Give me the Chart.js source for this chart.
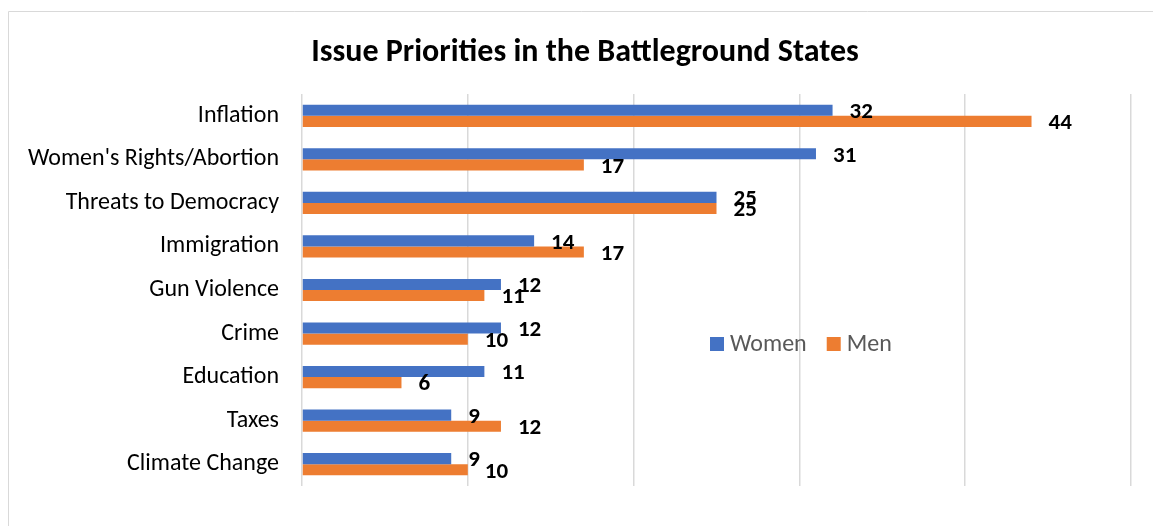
<!DOCTYPE html>
<html>
<head>
<meta charset="utf-8">
<script src="https://cdn.jsdelivr.net/npm/chart.js@4/dist/chart.umd.min.js"></script>
<style>
  html, body { margin: 0; padding: 0; background: #fff; }
  #wrap { width: 1153px; height: 526px; position: relative; }
</style>
</head>
<body>
<div id="wrap"><canvas id="issues"></canvas></div>
<script>
var categories = ["Inflation", "Women's Rights/Abortion", "Threats to Democracy", "Immigration",
                  "Gun Violence", "Crime", "Education", "Taxes", "Climate Change"];
var women = [32, 31, 25, 14, 12, 12, 11, 9, 9];
var men = [44, 17, 25, 17, 11, 10, 6, 12, 10];
var seriesNames = ["Women", "Men"];
var title = "Issue Priorities in the Battleground States";

var FONT = "Carlito, Lato, sans-serif";

// bold value labels next to each bar end
var barLabels = {
  id: 'barLabels',
  afterDatasetsDraw: function(chart) {
    var ctx = chart.ctx;
    ctx.save();
    ctx.font = "bold 23px " + FONT;
    ctx.fillStyle = "#000";
    ctx.textAlign = "left";
    ctx.textBaseline = "middle";
    chart.data.datasets.forEach(function(ds, i) {
      chart.getDatasetMeta(i).data.forEach(function(bar, j) {
        ctx.fillText(ds.data[j], bar.x + 17, bar.y + 2);
      });
    });
    ctx.restore();
  }
};

// title, frame and the legend sitting inside the plot
var decor = {
  id: 'decor',
  beforeDraw: function(chart) {
    var ctx = chart.ctx;
    ctx.save();
    ctx.strokeStyle = "#d9d9d9";
    ctx.lineWidth = 1;
    ctx.beginPath();
    ctx.moveTo(8.5, 530);
    ctx.lineTo(8.5, 11.5);
    ctx.lineTo(1160, 11.5);
    ctx.stroke();
    ctx.restore();
  },
  afterDraw: function(chart) {
    var ctx = chart.ctx;
    ctx.save();
    ctx.font = "bold 32px " + FONT;
    ctx.fillStyle = "#000";
    ctx.textAlign = "center";
    ctx.textBaseline = "middle";
    ctx.fillText(title, 585, 53);

    ctx.font = "24px " + FONT;
    ctx.textAlign = "left";
    var x = 710;
    chart.data.datasets.forEach(function(ds, i) {
      ctx.fillStyle = ds.backgroundColor;
      ctx.fillRect(x, 337, 14, 14);
      ctx.fillStyle = "#595959";
      ctx.fillText(seriesNames[i], x + 20, 345);
      x += 20 + ctx.measureText(seriesNames[i]).width + 20;
    });
    ctx.restore();
  }
};

new Chart(document.getElementById("issues"), {
  type: 'bar',
  data: {
    labels: categories,
    datasets: [
      { label: seriesNames[0], data: women, backgroundColor: "#4472C4",
        barPercentage: 1.0, categoryPercentage: 0.51 },
      { label: seriesNames[1], data: men, backgroundColor: "#ED7D31",
        barPercentage: 1.0, categoryPercentage: 0.51 }
    ]
  },
  options: {
    indexAxis: 'y',
    responsive: true,
    maintainAspectRatio: false,
    animation: false,
    layout: { padding: { left: 0, right: 22, top: 94, bottom: 40 } },
    plugins: {
      legend: { display: false },
      tooltip: { enabled: false }
    },
    scales: {
      x: {
        min: 0, max: 50,
        ticks: { display: false, stepSize: 10 },
        grid: { color: "#d9d9d9", lineWidth: 1.5, drawTicks: false },
        border: { display: false }
      },
      y: {
        ticks: { color: "#000", font: { family: FONT, size: 24, lineHeight: 1.4 }, padding: 23 },
        grid: { display: false, drawTicks: false },
        border: { display: false },
        afterFit: function(scale) { scale.width = 302; }
      }
    }
  },
  plugins: [barLabels, decor]
});
</script>
</body>
</html>
